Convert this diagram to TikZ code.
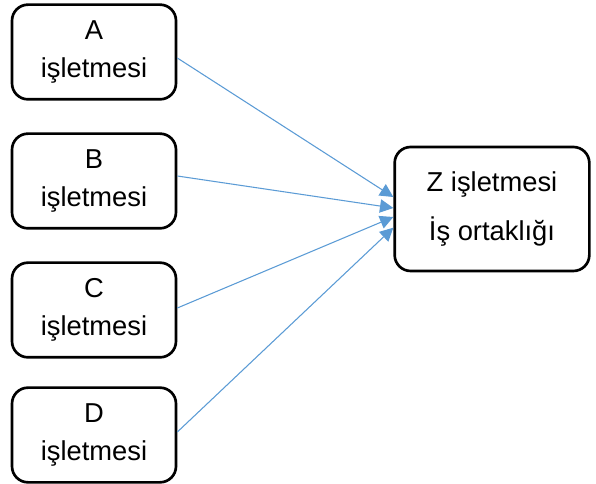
\documentclass[tikz,border=0pt]{standalone}
\usepackage{fontspec}
\setmainfont{Liberation Sans}
\usetikzlibrary{arrows.meta, positioning}

\definecolor{linkblue}{HTML}{5B9BD5}

\begin{document}
\begin{tikzpicture}[
    x=0.75pt, y=-0.75pt,
    firm/.style={
        draw,
        line width=2pt,
        rounded corners=12pt,
        minimum width=123pt,
        minimum height=71pt,
        align=center,
        font=\fontsize{20.5}{28}\selectfont,
    },
    venture/.style={
        firm,
        minimum width=146pt,
        minimum height=93pt,
    },
    link/.style={
        linkblue,
        line width=0.8pt,
        -{Triangle[length=10pt, width=10pt]},
    }
]
    \useasboundingbox (0,0) rectangle (596,484);

    % Firms
    \node[firm] (firmA) at (94,52)  {A\\işletmesi};
    \node[firm] (firmB) at (94,181) {B\\işletmesi};
    \node[firm] (firmC) at (94,310) {C\\işletmesi};
    \node[firm] (firmD) at (94,435) {D\\işletmesi};

    % Joint venture
    \node[venture] (firmZ) at (492,209) {Z işletmesi\\[9pt]İş ortaklığı};

    % Links
    \draw[link] ([yshift=-4.5pt]firmA.east) -- ([yshift=9pt]firmZ.west);
    \draw[link] ([yshift=3.75pt]firmB.east) -- ([yshift=0.75pt]firmZ.west);
    \draw[link] ([yshift=1.5pt]firmC.east)  -- ([yshift=-6pt]firmZ.west);
    \draw[link] ([yshift=2.25pt]firmD.east) -- ([yshift=-14pt]firmZ.west);
\end{tikzpicture}
\end{document}
